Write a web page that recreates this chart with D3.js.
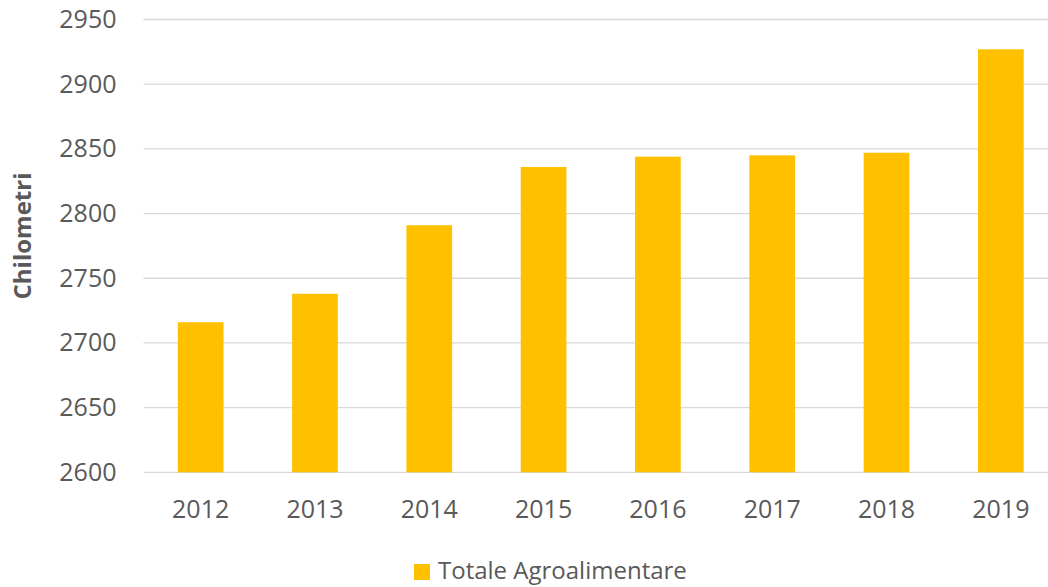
<!DOCTYPE html>
<html>
<head>
<meta charset="utf-8">
<script src="https://cdn.jsdelivr.net/npm/d3@7"></script>
<style>
  body { margin: 0; background: #fff; }
  text { font-family: "Open Sans", sans-serif; fill: #595959; }
</style>
</head>
<body>
<div id="chart"></div>
<script>
const years = ["2012", "2013", "2014", "2015", "2016", "2017", "2018", "2019"];
const km = [2716, 2738, 2791, 2836, 2844, 2845, 2847, 2927];
const yTicks = [2600, 2650, 2700, 2750, 2800, 2850, 2900, 2950];
const seriesName = "Totale Agroalimentare";
const yTitle = "Chilometri";

const width = 1048, height = 587;
const margin = { top: 19.5, right: -10, bottom: 114.7, left: 143.5 };

const svg = d3.select("#chart").append("svg")
  .attr("width", width)
  .attr("height", height);

const x = d3.scaleBand()
  .domain(years)
  .range([margin.left, width - margin.right])
  .paddingInner(0.6)
  .paddingOuter(0.3);

const y = d3.scaleLinear()
  .domain([2600, 2950])
  .range([height - margin.bottom, margin.top]);

// gridlines
svg.append("g")
  .selectAll("line")
  .data(yTicks)
  .join("line")
  .attr("x1", margin.left)
  .attr("x2", width - margin.right)
  .attr("y1", d => y(d))
  .attr("y2", d => y(d))
  .attr("stroke", "#d9d9d9")
  .attr("stroke-width", 1.3);

// y axis labels
const yAxis = svg.append("g")
  .attr("transform", `translate(${margin.left - 27}, 0)`)
  .call(d3.axisLeft(y).tickValues(yTicks).tickFormat(d3.format("d")).tickSize(0).tickPadding(0));
yAxis.select(".domain").remove();
yAxis.selectAll("text")
  .style("font-family", "'Open Sans', sans-serif")
  .style("font-size", "25px")
  .attr("fill", "#595959");

// bars
svg.append("g")
  .selectAll("rect")
  .data(years.map((d, i) => ({ year: d, value: km[i] })))
  .join("rect")
  .attr("x", d => x(d.year))
  .attr("width", x.bandwidth())
  .attr("y", d => y(d.value))
  .attr("height", d => y(2600) - y(d.value))
  .attr("fill", "#FFC000");

// x axis labels
const xAxis = svg.append("g")
  .attr("transform", `translate(0, ${y(2600)})`)
  .call(d3.axisBottom(x).tickSize(0).tickPadding(28));
xAxis.select(".domain").remove();
xAxis.selectAll("text")
  .style("font-family", "'Open Sans', sans-serif")
  .style("font-size", "25px")
  .attr("fill", "#595959");

// y title
svg.append("text")
  .attr("transform", `translate(31, 236) rotate(-90)`)
  .attr("text-anchor", "middle")
  .style("font-size", "24px")
  .style("font-weight", "bold")
  .text(yTitle);

// legend
const legend = svg.append("g");
legend.append("rect")
  .attr("x", 414)
  .attr("y", 564)
  .attr("width", 16)
  .attr("height", 16)
  .attr("fill", "#FFC000");
legend.append("text")
  .attr("x", 438)
  .attr("y", 579)
  .style("font-size", "24px")
  .text(seriesName);
</script>
</body>
</html>
